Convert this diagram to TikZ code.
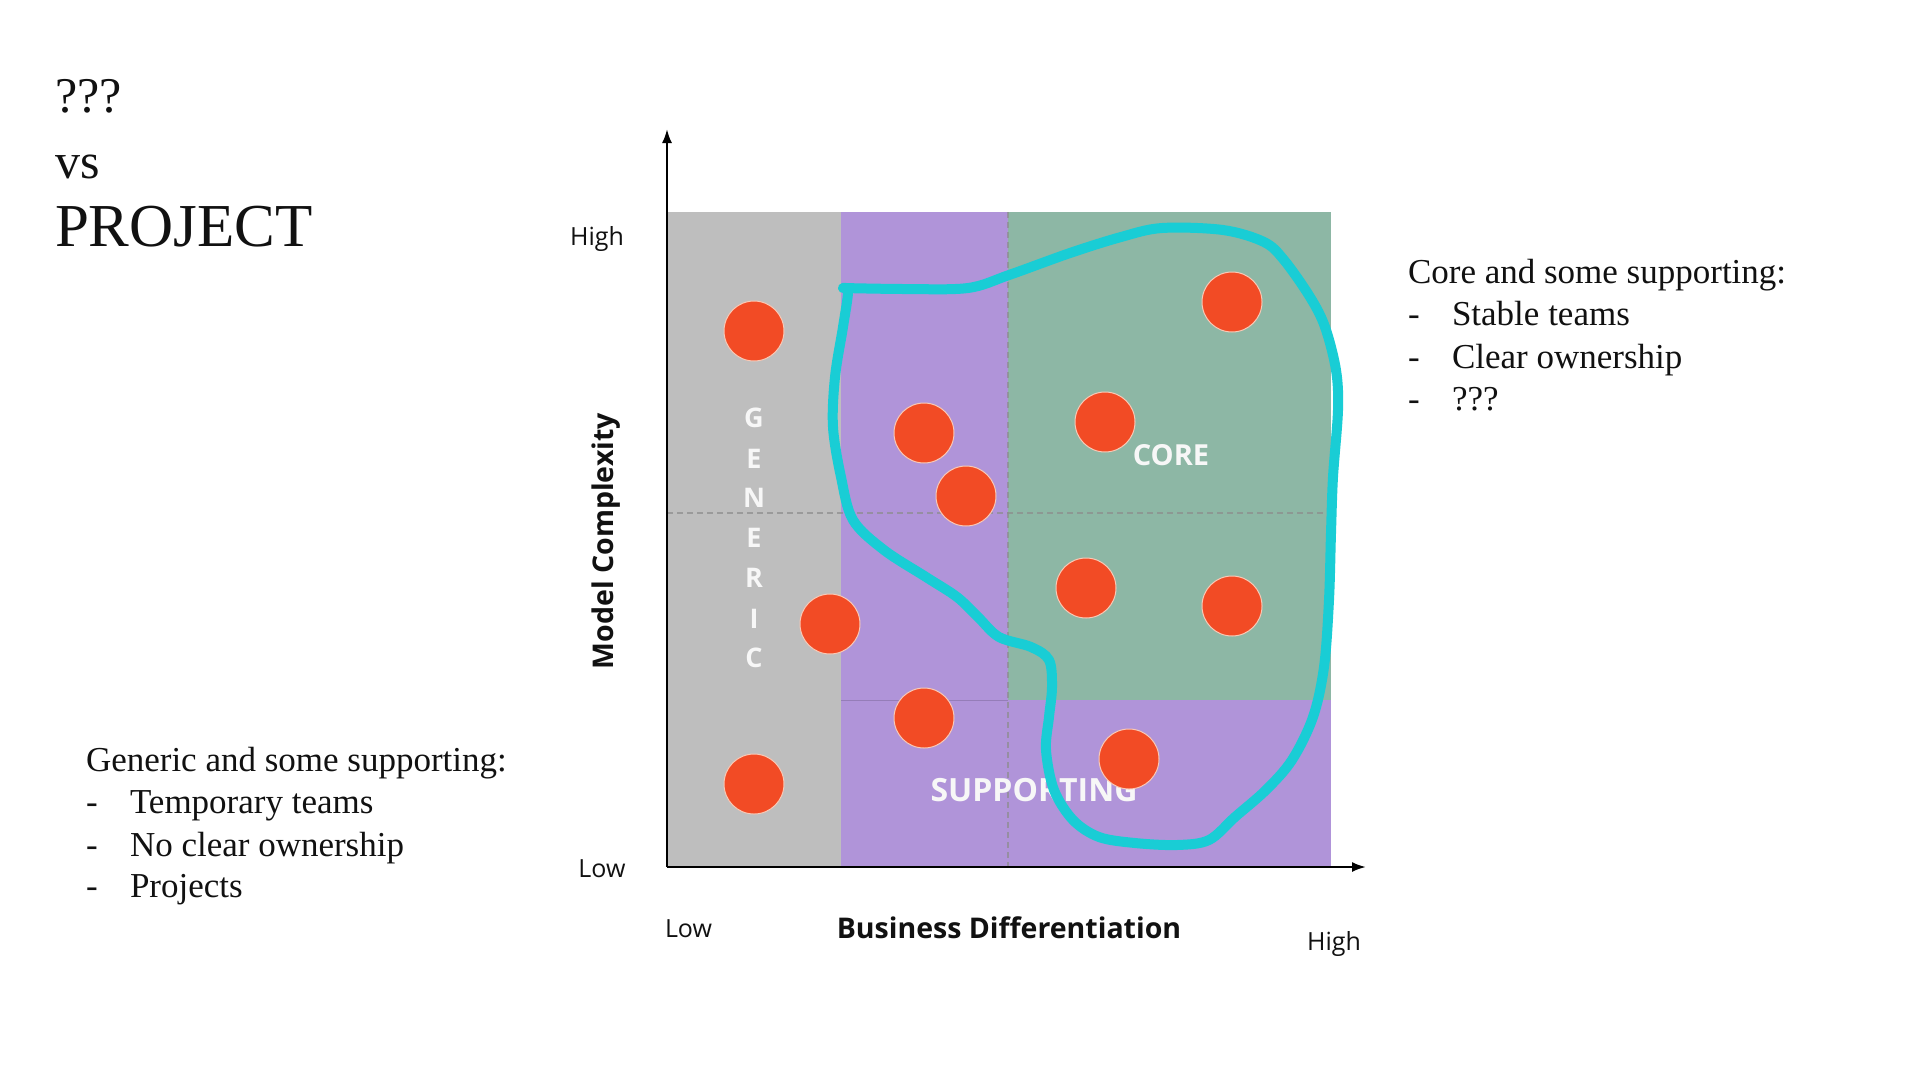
\documentclass[tikz,border=0pt]{standalone}
\usepackage{fontspec}
\setmainfont{Liberation Serif}
\newfontfamily\osans{Open Sans}
\usetikzlibrary{arrows.meta}
\definecolor{gencol}{HTML}{BEBEBE}
\definecolor{supcol}{HTML}{B094D9}
\definecolor{corecol}{HTML}{8DB7A5}
\definecolor{dotcol}{HTML}{F24B25}
\definecolor{dotrim}{HTML}{F9C9B6}
\definecolor{cyancol}{HTML}{19CDD5}
\definecolor{txt}{HTML}{111111}
\tikzset{
  txtnode/.style={inner sep=0pt, outer sep=0pt, text=txt},
  body/.style={txtnode, anchor=base west, font=\fontsize{35}{42}\selectfont},
  axlab/.style={txtnode, font=\osans\fontsize{25}{30}\selectfont},
  axtitle/.style={txtnode, font=\osans\bfseries\fontsize{28.5}{34}\selectfont},
  zonelab/.style={inner sep=0pt, outer sep=0pt, text=white!97!black, font=\osans\bfseries\fontsize{27}{32}\selectfont},
  dot/.style={circle, fill=dotcol, draw=dotrim, line width=1pt, minimum size=60pt, inner sep=0pt},
  divider/.style={line width=1.2pt, dash pattern=on 6pt off 4pt, draw=black!45, opacity=0.7},
  axis/.style={line width=2.2pt, draw=black, -{Latex[length=14pt,width=10pt]}}
}
\begin{document}
\begin{tikzpicture}[x=1pt,y=-1pt]
\useasboundingbox (0,0) rectangle (1920,1080);
\fill[white] (0,0) rectangle (1920,1080);

% title
\node[txtnode, anchor=base west, font=\fontsize{50}{60}\selectfont] (q) at (55,112) {???};
\node[txtnode, anchor=base west, font=\fontsize{50}{60}\selectfont] (vs) at (55,178) {vs};
\node[txtnode, anchor=base west, font=\fontsize{61}{70}\selectfont] (proj) at (55,246) {PROJECT};

% regions
\fill[gencol] (667,212) rectangle (841,867);
\fill[supcol] (841,212) rectangle (1008,867);
\fill[supcol] (1008,700) rectangle (1331,867);
\fill[corecol] (1008,212) rectangle (1331,700);
\draw[line width=1pt, draw=supcol!75!black, opacity=0.6] (841,700) -- (1008,700);

% dividers
\coordinate (hl) at (667,513);
\coordinate (hr) at (1331,513);
\coordinate (vt) at (1008,212);
\coordinate (vb) at (1008,867);
\draw[divider] (hl) -- (hr);
\draw[divider] (vt) -- (vb);

% axes
\coordinate (o) at (667,867);
\coordinate (ytip) at (667,129);
\coordinate (xtip) at (1366,867);
\draw[axis] (o) -- (ytip);
\draw[axis] (o) -- (xtip);

% axis labels
\node[axlab, anchor=base] (yhigh) at (597,245) {High};
\node[axlab, anchor=base] (ylow) at (602,877) {Low};
\node[axlab, anchor=base west] (xlow) at (665,937) {Low};
\node[axlab, anchor=base] (xhigh) at (1334,950) {High};
\node[axtitle, anchor=base] (xtitle) at (1009,938) {Business Differentiation};
\node[axtitle, anchor=base, rotate=90] (ytitle) at (613,541) {Model Complexity};

% zone labels
\node[zonelab] (g1) at (754,418) {G};
\node[zonelab] (g2) at (754,459) {E};
\node[zonelab] (g3) at (754,498) {N};
\node[zonelab] (g4) at (754,538) {E};
\node[zonelab] (g5) at (754,578) {R};
\node[zonelab] (g6) at (754,619) {I};
\node[zonelab] (g7) at (754,658) {C};
\node[zonelab, font=\osans\bfseries\fontsize{29}{34}\selectfont] (corelab) at (1171,455) {CORE};
\node[zonelab, font=\osans\bfseries\fontsize{32}{38}\selectfont] (suplab) at (1034,790) {SUPPORTING};

% boundary
\draw[cyancol, line width=10pt, line join=round, line cap=round]
  plot[smooth, tension=0.55] coordinates {
  (843,288) (905,289) (968,288) (1009,275) (1070,253) (1121,237) (1162,228)
  (1223,230) (1264,242) (1284,260) (1310,297) (1325,327) (1336,370) (1338,410)
  (1333,477) (1331,533) (1329,600) (1324,667) (1313,717) (1292,760) (1266,790)
  (1235,817) (1209,840) (1177,845) (1135,843) (1099,837) (1073,820) (1054,790)
  (1046,750) (1049,717) (1052,687) (1049,660) (1031,647) (999,637) (978,617)
  (957,597) (926,577) (884,550) (853,520) (841,477) (833,427) (835,377)
  (843,327) (848,292) (843,288)};

% dots
\node[dot] (d1) at (754,331) {};
\node[dot] (d2) at (924,433) {};
\node[dot] (d3) at (966,496) {};
\node[dot] (d4) at (1105,422) {};
\node[dot] (d5) at (1232,302) {};
\node[dot] (d6) at (830,624) {};
\node[dot] (d7) at (1086,588) {};
\node[dot] (d8) at (1232,606) {};
\node[dot] (d9) at (924,718) {};
\node[dot] (d10) at (1129,759) {};
\node[dot] (d11) at (754,784) {};

% right text
\node[body] (r0) at (1408,283) {Core and some supporting:};
\node[body] (rd1) at (1408,325) {-};
\node[body] (r1) at (1452,325) {Stable teams};
\node[body] (rd2) at (1408,368) {-};
\node[body] (r2) at (1452,368) {Clear ownership};
\node[body] (rd3) at (1408,410) {-};
\node[body] (r3) at (1452,410) {???};

% left text
\node[body] (l0) at (86,771) {Generic and some supporting:};
\node[body] (ld1) at (86,813) {-};
\node[body] (l1) at (130,813) {Temporary teams};
\node[body] (ld2) at (86,856) {-};
\node[body] (l2) at (130,856) {No clear ownership};
\node[body] (ld3) at (86,897) {-};
\node[body] (l3) at (130,897) {Projects};
\end{tikzpicture}
\end{document}
